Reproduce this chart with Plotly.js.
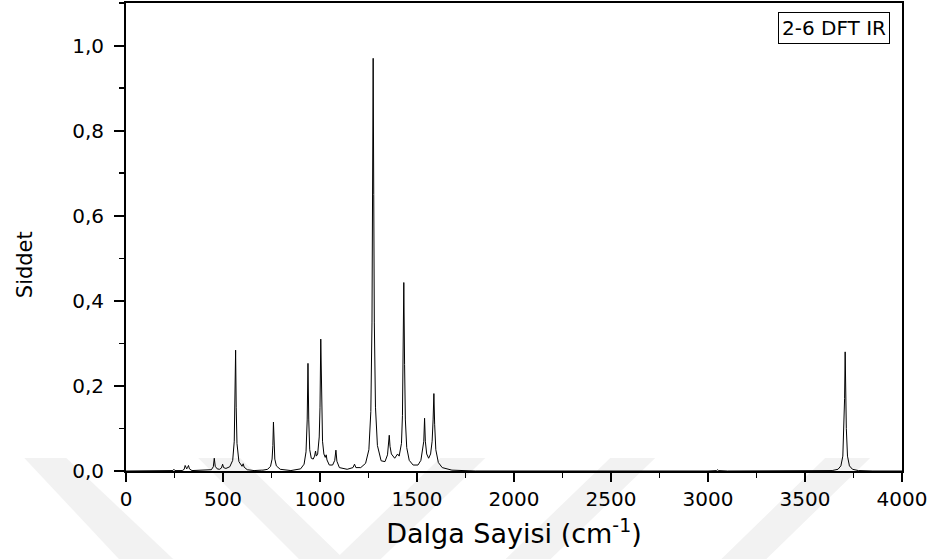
<!DOCTYPE html>
<html>
<head>
<meta charset="utf-8">
<script src="https://cdn.plot.ly/plotly-3.0.1.min.js"></script>
<style>html,body{margin:0;padding:0;background:#fff;}#chart{width:934px;height:559px;}</style>
</head>
<body>
<div id="chart"></div>
<script>
// Wave numbers (cm^-1) and intensities
const wavenumber = [
  0, 230, 242, 247, 252, 290, 300, 305, 310, 313, 317, 322, 327, 340,
  440, 450, 455, 460, 470, 482, 492, 498, 503, 515, 535, 550, 558, 562, 565, 568, 572, 582, 592, 598, 604, 609, 625,
  660, 700, 703, 706, 730, 745, 753, 757, 760, 763, 767, 775, 795, 850,
  900, 918, 928, 934, 938, 942, 947, 955, 965, 972, 977, 981, 988, 996, 1000, 1004, 1008, 1013, 1020, 1027, 1032, 1036, 1048,
  1065, 1076, 1082, 1087, 1100, 1140, 1170, 1178, 1185, 1210, 1235, 1252, 1262, 1268, 1271, 1274, 1277, 1280, 1286, 1296, 1315,
  1335, 1348, 1353, 1357, 1361, 1368, 1385, 1400, 1408, 1414, 1420, 1425, 1428, 1432, 1436, 1440, 1447, 1460, 1480,
  1505, 1520, 1530, 1535, 1539, 1543, 1550, 1560, 1570, 1578, 1583, 1587, 1591, 1597, 1610, 1630, 1680, 1800,
  3000, 3045, 3050, 3055, 3100,
  3640, 3670, 3685, 3695, 3701, 3704, 3707, 3710, 3713, 3719, 3729, 3745, 3775, 3850, 4000
];
const intensity = [
  0, 0, 0.001, 0.004, 0.001, 0.001, 0.004, 0.013, 0.006, 0.005, 0.008, 0.013, 0.005, 0.001,
  0.003, 0.010, 0.030, 0.011, 0.005, 0.004, 0.007, 0.016, 0.008, 0.006, 0.010, 0.025, 0.070, 0.150, 0.284, 0.150, 0.065, 0.022, 0.014, 0.011, 0.017, 0.009, 0.003,
  0.001, 0.002, 0.003, 0.002, 0.004, 0.011, 0.028, 0.060, 0.115, 0.060, 0.028, 0.012, 0.004, 0.001,
  0.005, 0.016, 0.045, 0.120, 0.253, 0.120, 0.050, 0.030, 0.028, 0.035, 0.047, 0.035, 0.040, 0.080, 0.150, 0.310, 0.150, 0.070, 0.040, 0.032, 0.038, 0.026, 0.014,
  0.014, 0.025, 0.049, 0.023, 0.008, 0.004, 0.008, 0.016, 0.008, 0.008, 0.018, 0.050, 0.140, 0.350, 0.650, 0.970, 0.650, 0.350, 0.150, 0.060, 0.024,
  0.022, 0.038, 0.060, 0.084, 0.058, 0.040, 0.030, 0.040, 0.035, 0.048, 0.065, 0.130, 0.250, 0.443, 0.250, 0.120, 0.055, 0.025, 0.014,
  0.014, 0.025, 0.055, 0.070, 0.124, 0.070, 0.040, 0.030, 0.040, 0.070, 0.120, 0.182, 0.110, 0.050, 0.020, 0.008, 0.002, 0,
  0, 0.001, 0.003, 0.001, 0,
  0.001, 0.004, 0.012, 0.035, 0.100, 0.170, 0.280, 0.170, 0.100, 0.035, 0.012, 0.004, 0.001, 0, 0
];
const xTickVals = [0, 500, 1000, 1500, 2000, 2500, 3000, 3500, 4000];
const yTickVals = [0, 0.2, 0.4, 0.6, 0.8, 1.0];
const legendLabel = '2-6 DFT IR';
const xTitle = 'Dalga Sayisi (cm<sup>-1</sup>)';
const yTitle = 'Siddet';

const fontFam = '"DejaVu Sans", "Liberation Sans", Arial, sans-serif';

const trace = {
  x: wavenumber, y: intensity, type: 'scatter', mode: 'lines',
  line: {color: '#000', width: 1}, hoverinfo: 'skip', showlegend: false
};

const band = (p) => ({type: 'path', xref: 'paper', yref: 'paper', layer: 'below',
  path: p, fillcolor: '#f2f2f2', line: {width: 0}});

const layout = {
  width: 934, height: 559,
  margin: {l: 126, r: 32, t: 3, b: 88},
  paper_bgcolor: '#fff', plot_bgcolor: 'rgba(0,0,0,0)',
  separators: ',.',
  font: {family: fontFam, color: '#000', size: 20},
  showlegend: false,
  xaxis: {
    range: [0, 4000], tickvals: xTickVals,
    ticks: 'outside', ticklen: 9, tickwidth: 2, tickcolor: '#000',
    minor: {dtick: 250, ticks: 'outside', ticklen: 5, tickwidth: 1.5, tickcolor: '#000'},
    showline: true, linewidth: 2, linecolor: '#000', mirror: true,
    showgrid: false, zeroline: false,
    tickfont: {size: 20, family: fontFam},
    title: {text: xTitle, font: {size: 27, family: fontFam}, standoff: 14}
  },
  yaxis: {
    range: [0, 1.1], tickvals: yTickVals, tickformat: '.1f',
    ticks: 'outside', ticklen: 10, tickwidth: 2, tickcolor: '#000',
    ticklabelstandoff: 6,
    minor: {dtick: 0.1, ticks: 'outside', ticklen: 5, tickwidth: 1.5, tickcolor: '#000'},
    showline: true, linewidth: 2, linecolor: '#000', mirror: true,
    showgrid: false, zeroline: false,
    tickfont: {size: 20, family: fontFam}
  },
  annotations: [{
    xref: 'paper', yref: 'paper', x: 0.9845, y: 0.98, xanchor: 'right', yanchor: 'top',
    text: legendLabel, showarrow: false, font: {size: 20, family: fontFam, color: '#000'},
    bordercolor: '#000', borderwidth: 1, borderpad: 3, bgcolor: '#fff'
  }, {
    xref: 'paper', yref: 'paper', x: -0.130, y: 0.44, xanchor: 'center', yanchor: 'middle',
    text: yTitle, textangle: -90, showarrow: false, font: {size: 21, family: fontFam, color: '#000'}
  }],
  shapes: [
    band('M -0.131 0.028 L -0.077 0.028 L 0.062 -0.19 L -0.008 -0.19 Z'),
    band('M 0.093 0.028 L 0.147 0.028 L 0.282 -0.19 L 0.224 -0.19 Z'),
    band('M 0.269 -0.19 L 0.327 -0.19 L 0.463 0.028 L 0.405 0.028 Z'),
    band('M 0.488 -0.19 L 0.546 -0.19 L 0.682 0.028 L 0.624 0.028 Z'),
    band('M 0.766 -0.19 L 0.824 -0.19 L 0.959 0.028 L 0.901 0.028 Z')
  ]
};

Plotly.newPlot('chart', [trace], layout, {displayModeBar: false, staticPlot: true});
</script>
</body>
</html>
